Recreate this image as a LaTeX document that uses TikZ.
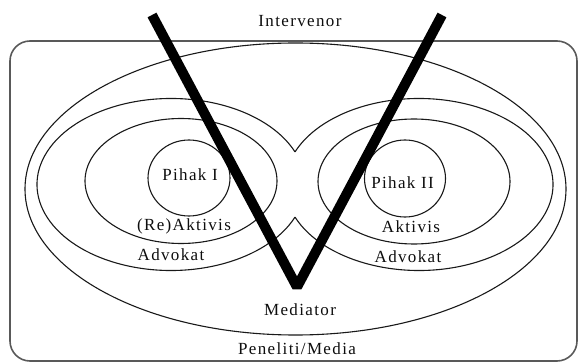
\documentclass[tikz,border=0pt]{standalone}
\usepackage{fontspec}
\newfontfamily\rolefont[LetterSpace=8]{Liberation Serif}
\begin{document}
\begin{tikzpicture}[x=1pt,y=-1pt,
    ring/.style={draw=black!90,line width=1.1pt},
    frame/.style={draw=black!65,line width=1.6pt,rounded corners=20pt},
    vee/.style={line width=10pt,line join=bevel},
    rolelabel/.style={font=\rolefont\fontsize{17}{19}\selectfont,
      text=black!95,inner sep=0pt,anchor=base}
  ]
  \useasboundingbox (0,0) rectangle (578,363);
  % outer frame and the big ellipse
  \draw[frame] (10,41) rectangle (577,361);
  \coordinate (bigc) at (295.5,189);
  \draw[ring] (bigc) ellipse [x radius=270.5,y radius=146];
  % the two outer lobes (Advokat), joined at the middle
  \coordinate (lobel) at (171,184.5);
  \coordinate (lober) at (419,184.5);
  \draw[ring] (lobel) ++(22.3:134 and 86)
    arc[start angle=22.3,end angle=337.7,x radius=134,y radius=86];
  \draw[ring] (lober) ++(157.7:134 and 86)
    arc[start angle=157.7,end angle=-157.7,x radius=134,y radius=86];
  % Aktivis rings
  \coordinate (aktl) at (181,181);
  \coordinate (aktr) at (414,181.5);
  \draw[ring] (aktl) ellipse [x radius=96,y radius=62.5];
  \draw[ring] (aktr) ellipse [x radius=96,y radius=62.5];
  % Pihak circles
  \coordinate (pihl) at (189,178);
  \coordinate (pihr) at (405,178.5);
  \draw[ring] (pihl) ellipse [x radius=41,y radius=38];
  \draw[ring] (pihr) ellipse [x radius=40.5,y radius=38.5];
  % the V of the intervenor
  \coordinate (vtopl) at (152,15);
  \coordinate (vbot) at (297,287);
  \coordinate (vtopr) at (442,15);
  \draw[vee] (vtopl) -- (vbot) -- (vtopr);
  % labels
  \node[rolelabel] (intervenor) at (300,27) {Intervenor};
  \node[rolelabel] (pihaki) at (190,181) {Pihak I};
  \node[rolelabel] (pihakii) at (402.5,189) {Pihak II};
  \node[rolelabel] (reaktivis) at (184,231) {(Re)Aktivis};
  \node[rolelabel] (advokatl) at (171,261) {Advokat};
  \node[rolelabel] (aktivis) at (411,233) {Aktivis};
  \node[rolelabel] (advokatr) at (408,262) {Advokat};
  \node[rolelabel] (mediator) at (300,316) {Mediator};
  \node[rolelabel] (peneliti) at (297,354) {Peneliti/Media};
\end{tikzpicture}
\end{document}
